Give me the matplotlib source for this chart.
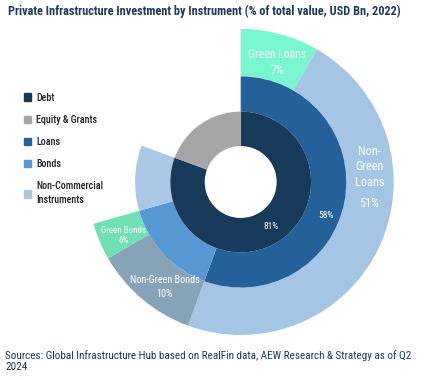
import matplotlib.pyplot as plt
from matplotlib.patches import Patch

plt.rcParams['font.family'] = ['Roboto Condensed', 'DejaVu Sans']
plt.rcParams['font.stretch'] = 'condensed'

# Inner ring: Debt vs Equity & Grants (share of angle, %)
inner_labels = ['Debt', 'Equity & Grants']
inner_vals = [80.6, 19.4]
inner_colors = ['#17395a', '#a6a6a6']

# Middle ring: Loans, Bonds, Non-Commercial Instruments, then Equity gap
mid_labels = ['Loans', 'Bonds', 'Non-Commercial\nInstruments']
mid_vals = [55.6, 15.0, 10.0]
mid_colors = ['#24609a', '#5698d3', '#a9c8e6']

# Outer ring: green / non-green split of loans and bonds
outer_labels = ['Green Loans', 'Non-Green Loans', 'Non-Green Bonds', 'Green Bonds']
outer_vals = [8.3, 47.3, 11.1, 3.9]
outer_colors = ['#77f6cf', '#a4c5e4', '#86a3b8', '#6fe0b2']
outer_pct = ['7%', '51%', '10%', '6%']

fig = plt.figure(figsize=(4.26, 3.8), dpi=100)
ax = fig.add_axes([0, 0, 1, 1])

rest_mid = 100 - sum(mid_vals)
rest_outer = 100 - sum(outer_vals)

ax.pie(outer_vals + [rest_outer], radius=1.0, startangle=90, counterclock=False,
       colors=outer_colors + ['none'], wedgeprops=dict(width=0.31, linewidth=0))
ax.pie(mid_vals + [rest_mid], radius=0.69, startangle=90, counterclock=False,
       colors=mid_colors + ['none'], wedgeprops=dict(width=0.23, linewidth=0))
ax.pie(inner_vals, radius=0.46, startangle=90, counterclock=False,
       colors=inner_colors, wedgeprops=dict(width=0.225, linewidth=0))

# place the pie: centre at (240.7, 182) px, radius 1 = 153 px
ax.set_xlim(-240.7 / 153, (426 - 240.7) / 153)
ax.set_ylim((182 - 380) / 153, 182 / 153)
ax.set_aspect('auto')
ax.axis('off')

white = dict(color='white', ha='center', va='center')
ax.text(0.239, 0.781, 'Green Loans\n7%', fontsize=8.5, linespacing=1.3, **white)
ax.text(0.841, 0.100, 'Non-\nGreen\nLoans', fontsize=8.8, linespacing=1.25, **white)
ax.text(0.841, -0.139, outer_pct[1], fontsize=8.8, **white)
ax.text(0.556, -0.216, '58%', fontsize=6.8, **white)
ax.text(0.198, -0.292, '81%', fontsize=6.8, **white)
ax.text(-0.763, -0.351, 'Green Bonds\n6%', fontsize=6.5, linespacing=1.2, **white)
ax.text(-0.495, -0.686, 'Non-Green Bonds\n10%', fontsize=7.3, linespacing=1.55, **white)

handles = [Patch(color=c) for c in inner_colors + mid_colors]
fig.legend(handles, inner_labels + mid_labels, loc='upper left',
           bbox_to_anchor=(0.035, 0.78), frameon=False,
           prop=dict(size=7.2, weight='medium'),
           handlelength=0.75, handleheight=0.75, handletextpad=0.5,
           labelspacing=1.22, labelcolor='#222222')
for t in fig.legends[0].get_texts():
    t.set_linespacing(1.5)

fig.text(0.019, 0.988, 'Private Infrastructure Investment by Instrument (% of total value, USD Bn, 2022)',
         fontsize=8.8, fontweight='bold', color='#1e3a5c', va='top', ha='left')
fig.text(0.012, 0.078, 'Sources: Global Infrastructure Hub based on RealFin data, AEW Research & Strategy as of Q2\n2024',
         fontsize=8.0, color='#1e3a5c', va='top', ha='left', linespacing=1.05)

plt.savefig('out.png', dpi=100)
